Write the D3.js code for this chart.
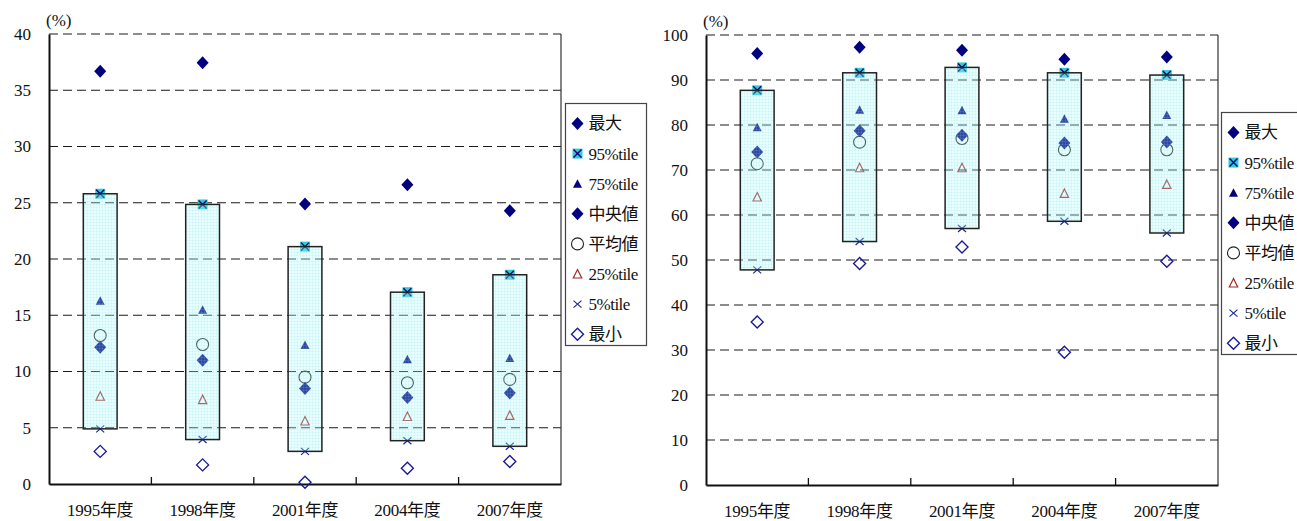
<!DOCTYPE html>
<html><head><meta charset="utf-8">
<script src="https://cdn.jsdelivr.net/npm/d3@7"></script>
<style>
html,body{margin:0;padding:0;background:#fff;}
svg{display:block;}
svg text{font-family:"Liberation Serif","Times New Roman",Times,"Noto Sans CJK JP",serif !important;fill:#111;}
</style></head>
<body>
<script>
const categories = ["1995年度","1998年度","2001年度","2004年度","2007年度"];
const legendLabels = ["最大","95%tile","75%tile","中央値","平均値","25%tile","5%tile","最小"];
const seriesKeys = ["max","p95","p75","median","mean","p25","p5","min"];

// left chart values (%)
const leftMax    = [36.7, 37.45, 24.9, 26.6, 24.3];
const leftP95    = [25.8, 24.85, 21.1, 17.05, 18.6];
const leftP75    = [16.3, 15.5, 12.35, 11.1, 11.2];
const leftMedian = [12.15, 11.0, 8.5, 7.7, 8.1];
const leftMean   = [13.2, 12.4, 9.5, 9.0, 9.3];
const leftP25    = [7.8, 7.5, 5.6, 6.0, 6.1];
const leftP5     = [4.9, 3.95, 2.9, 3.85, 3.35];
const leftMin    = [2.9, 1.7, 0.15, 1.4, 2.0];
const leftTicks  = [0,5,10,15,20,25,30,35,40];

// right chart values (%)
const rightMax    = [95.9, 97.3, 96.6, 94.6, 95.1];
const rightP95    = [87.7, 91.6, 92.8, 91.6, 91.1];
const rightP75    = [79.5, 83.4, 83.3, 81.4, 82.2];
const rightMedian = [74.0, 78.7, 77.7, 76.0, 76.2];
const rightMean   = [71.4, 76.2, 77.0, 74.5, 74.5];
const rightP25    = [64.0, 70.5, 70.5, 64.8, 66.8];
const rightP5     = [47.8, 54.1, 57.0, 58.6, 56.0];
const rightMin    = [36.2, 49.2, 52.9, 29.5, 49.7];
const rightTicks  = [0,10,20,30,40,50,60,70,80,90,100];

const FONT = '"Liberation Serif","Times New Roman",Times,"Noto Sans CJK JP",serif';
const svg = d3.select("body").append("svg").attr("width",1297).attr("height",521);
const defs = svg.append("defs");
const pat = defs.append("pattern").attr("id","boxPat").attr("width",3).attr("height",3)
  .attr("patternUnits","userSpaceOnUse");
pat.append("rect").attr("width",3).attr("height",3).attr("fill","rgba(175,255,255,0.28)");
pat.append("path").attr("d","M0,0.3H3M0.3,0V3").attr("stroke","rgba(120,210,230,0.30)").attr("stroke-width",0.6);

const NAVY = "#000080";

function drawMarker(g, key, x, y){
  const m = g.append("g").attr("transform",`translate(${x},${y})`);
  switch(key){
    case "max": case "median":
      m.append("path").attr("d","M0,-6.5L6,0L0,6.5L-6,0Z").attr("fill",NAVY); break;
    case "p95":
      m.append("rect").attr("x",-5).attr("y",-5).attr("width",10).attr("height",10).attr("fill","#33CCCC");
      m.append("path").attr("d","M-4,-4L4,4M-4,4L4,-4").attr("stroke",NAVY).attr("stroke-width",1.4); break;
    case "p75":
      m.append("path").attr("d","M0,-4.5L4.5,4L-4.5,4Z").attr("fill",NAVY); break;
    case "mean":
      m.append("circle").attr("r",6).attr("fill","none").attr("stroke","#222").attr("stroke-width",1.1); break;
    case "p25":
      m.append("path").attr("d","M0,-4.5L4.2,4L-4.2,4Z").attr("fill","none").attr("stroke","#A02828").attr("stroke-width",1.2); break;
    case "p5":
      m.append("path").attr("d","M-4,-3.5L4,3.5M-4,3.5L4,-3.5").attr("stroke","#1A2AA0").attr("stroke-width",1.2); break;
    case "min":
      m.append("path").attr("d","M0,-6L6,0L0,6L-6,0Z").attr("fill","none").attr("stroke","#1A1A9A").attr("stroke-width",1.4); break;
  }
}

function drawChart(cfg){
  const {left, right, top, bottom, ticks, series, labelX, legend} = cfg;
  const g = svg.append("g");
  const x = d3.scaleBand().domain(categories).range([left,right]).padding(0);
  const y = d3.scaleLinear().domain([0, d3.max(ticks)]).range([bottom, top]);

  // gridlines
  g.append("g").selectAll("line").data(ticks.filter(t=>t>0)).join("line")
    .attr("x1",left).attr("x2",right).attr("y1",d=>y(d)).attr("y2",d=>y(d))
    .attr("stroke","#1a1a1a").attr("stroke-width",1.1).attr("stroke-dasharray","9,5");
  // right border
  g.append("line").attr("x1",right).attr("x2",right).attr("y1",top).attr("y2",bottom)
    .attr("stroke","#333").attr("stroke-width",1.2);

  // y axis
  const ya = d3.axisLeft(y).tickValues(ticks).tickSize(0).tickPadding(18).tickFormat(d3.format("d"));
  const yg = g.append("g").attr("transform",`translate(${left},0)`).call(ya);
  yg.attr("font-family",FONT);
  yg.select(".domain").attr("stroke","#111").attr("stroke-width",2);
  yg.selectAll("text").style("font-size","17px").attr("fill","#111");

  // x axis
  const xa = d3.axisBottom(x).tickSize(0).tickPadding(20);
  const xg = g.append("g").attr("transform",`translate(0,${bottom})`).call(xa);
  xg.attr("font-family",FONT);
  xg.select(".domain").attr("stroke","#111").attr("stroke-width",2);
  xg.selectAll("text").style("font-size","17px").style("letter-spacing","-0.3px").attr("fill","#111");
  // inner tick marks at category boundaries
  g.append("g").selectAll("line").data(categories.slice(1)).join("line")
    .attr("x1",d=>x(d)).attr("x2",d=>x(d)).attr("y1",bottom).attr("y2",bottom-7)
    .attr("stroke","#111").attr("stroke-width",1.3);

  // (%) label
  g.append("text").attr("x",labelX).attr("y",top-8).attr("font-family",FONT).style("font-size","17px").text("(%)");

  const bw = x.bandwidth()*0.33;
  const cx = d => x(d)+x.bandwidth()/2;

  // markers
  const order = ["min","p5","p25","mean","median","p75","max","p95"];
  order.forEach(k=>{
    categories.forEach((c,i)=>drawMarker(g,k,cx(c),y(series[k][i])));
  });

  // boxes from 5%tile to 95%tile (overlay)
  g.append("g").selectAll("rect").data(categories).join("rect")
    .attr("x",d=>cx(d)-bw/2).attr("width",bw)
    .attr("y",(d,i)=>y(series.p95[i]))
    .attr("height",(d,i)=>y(series.p5[i])-y(series.p95[i]))
    .attr("fill","url(#boxPat)").attr("stroke","#222").attr("stroke-width",1.5);

  // legend
  const lg = g.append("g");
  lg.append("rect").attr("x",legend.x).attr("y",legend.y).attr("width",legend.w).attr("height",legend.h)
    .attr("fill","#fff").attr("stroke","#444").attr("stroke-width",1.2);
  seriesKeys.forEach((k,i)=>{
    const yy = legend.y + 20 + i*legend.step;
    drawMarker(lg,k,legend.x+12,yy);
    lg.append("text").attr("x",legend.x+23).attr("y",yy).attr("dy","0.35em").attr("font-family",FONT)
      .style("font-size","17px").style("letter-spacing","-0.5px").text(legendLabels[i]);
  });
}

drawChart({left:49,right:561,top:34,bottom:484,ticks:leftTicks,labelX:46,
  series:{max:leftMax,p95:leftP95,p75:leftP75,median:leftMedian,mean:leftMean,p25:leftP25,p5:leftP5,min:leftMin},
  legend:{x:565.5,y:103.5,w:81,h:242,step:30.1}});
drawChart({left:706,right:1218,top:35,bottom:485,ticks:rightTicks,labelX:703,
  series:{max:rightMax,p95:rightP95,p75:rightP75,median:rightMedian,mean:rightMean,p25:rightP25,p5:rightP5,min:rightMin},
  legend:{x:1221.5,y:112.5,w:90,h:242,step:30.1}});
</script>
</body></html>
